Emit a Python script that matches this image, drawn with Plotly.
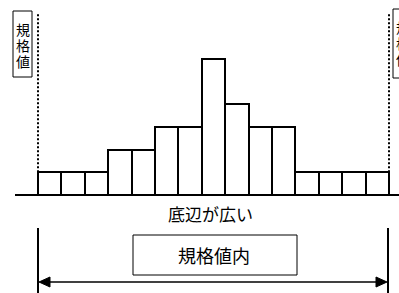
import plotly.graph_objects as go

W, H = 399, 293

# data
bins = list(range(15))
counts = [1, 1, 1, 2, 2, 3, 3, 6, 4, 3, 3, 1, 1, 1, 1]
label_bottom = "底辺が広い"
label_spec = "規格値"
label_inside = "規格値内"

FONT = "Noto Sans CJK JP"

# pixel geometry of plot
left_px, right_px = 38, 389
base_px = 195
unit_px = 22.7
bw = (right_px - left_px) / len(bins)
x0 = -0.5 - left_px / bw
x1 = x0 + W / bw
y1 = base_px / unit_px
y0 = y1 - H / unit_px


def px(x):
    return x / W


def py(y):
    return 1 - y / H


fig = go.Figure()
fig.add_trace(go.Bar(
    x=bins, y=counts, width=1,
    marker=dict(color="white", line=dict(color="black", width=2)),
    hoverinfo="skip",
))

shapes = []
annotations = []

# baseline
shapes.append(dict(type="line", xref="paper", yref="y", x0=px(15), x1=px(399), y0=0, y1=0,
                   line=dict(color="black", width=2), layer="below"))

# dotted spec lines
for xv in (-0.5, 14.5):
    shapes.append(dict(type="line", xref="x", yref="y", x0=xv, x1=xv, y0=counts[0],
                       y1=(base_px - 13) / unit_px,
                       line=dict(color="black", width=2, dash="2px,2px")))

# spec label boxes
for bx0, bx1, by0, by1 in ((13, 32, 11, 77), (393, 412, 9, 78)):
    shapes.append(dict(type="rect", xref="paper", yref="paper", x0=px(bx0), x1=px(bx1),
                       y0=py(by1), y1=py(by0), line=dict(color="black", width=1),
                       fillcolor="white"))
    cx = (bx0 + bx1) / 2
    for i, ch in enumerate(label_spec):
        annotations.append(dict(xref="paper", yref="paper", x=px(cx), y=py(29 + 16 * i + (by0 - 11)),
                                text=ch, showarrow=False, xanchor="center", yanchor="middle",
                                font=dict(family=FONT, size=14, color="black")))

# bottom label
annotations.append(dict(xref="paper", yref="paper", x=px(210), y=py(213), text=label_bottom,
                        showarrow=False, xanchor="center", yanchor="middle",
                        font=dict(family=FONT, size=17, color="black")))

# lower vertical lines
for xv in (38, 388):
    shapes.append(dict(type="line", xref="paper", yref="paper", x0=px(xv), x1=px(xv),
                       y0=py(228), y1=py(293), line=dict(color="black", width=2)))

# arrow line
ay = 282
shapes.append(dict(type="line", xref="paper", yref="paper", x0=px(46), x1=px(380),
                   y0=py(ay), y1=py(ay), line=dict(color="black", width=1.5)))
# arrow heads
for tip, back in ((39, 50), (387, 376)):
    path = (f"M {px(tip)} {py(ay)} L {px(back)} {py(ay - 5)} L {px(back)} {py(ay + 5)} Z")
    shapes.append(dict(type="path", xref="paper", yref="paper", path=path,
                       fillcolor="black", line=dict(color="black", width=1)))

# inside box
shapes.append(dict(type="rect", xref="paper", yref="paper", x0=px(133), x1=px(297),
                   y0=py(275), y1=py(235), line=dict(color="black", width=1)))
annotations.append(dict(xref="paper", yref="paper", x=px(214), y=py(255), text=label_inside,
                        showarrow=False, xanchor="center", yanchor="middle",
                        font=dict(family=FONT, size=18, color="black")))

fig.update_layout(
    width=W, height=H,
    margin=dict(l=0, r=0, t=0, b=0),
    paper_bgcolor="white", plot_bgcolor="white",
    showlegend=False, bargap=0,
    xaxis=dict(range=[x0, x1], visible=False, fixedrange=True),
    yaxis=dict(range=[y0, y1], visible=False, fixedrange=True),
    shapes=shapes, annotations=annotations,
)

fig.write_html("out.html", config={"displayModeBar": False},
               post_script="document.body.style.margin='0';document.body.style.overflow='hidden';")
